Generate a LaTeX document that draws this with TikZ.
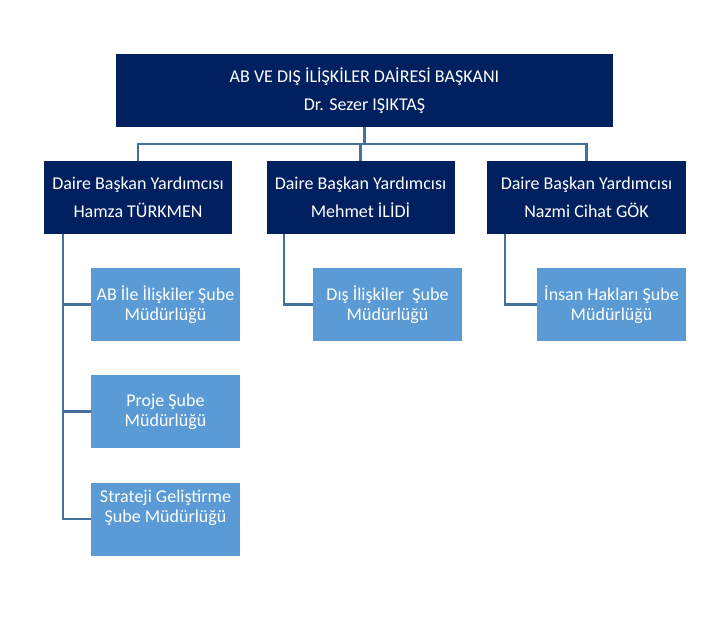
\documentclass[tikz,border=0pt]{standalone}
\usepackage{fontspec}
\setmainfont{Carlito}
\usepackage{xcolor}
\usetikzlibrary{calc,positioning}
\definecolor{koyumavi}{RGB}{0,32,96}
\definecolor{acikmavi}{RGB}{91,155,213}
\definecolor{hatmavi}{RGB}{65,113,156}
\tikzset{
  baskan/.style={rectangle, fill=koyumavi, text=white, align=center, minimum width=497pt, minimum height=73pt, inner sep=0pt, font=\fontsize{18}{20}\selectfont},
  yardimci/.style={rectangle, fill=koyumavi, text=white, align=center, minimum width=188pt, minimum height=73pt, inner sep=0pt, font=\fontsize{18}{20}\selectfont},
  sube/.style={rectangle, fill=acikmavi, text=white, align=center, minimum width=149pt, minimum height=73pt, inner sep=0pt, font=\fontsize{18}{20}\selectfont},
  hat/.style={draw=hatmavi, line width=2.2pt}
}
\begin{document}
\begin{tikzpicture}[x=1pt,y=-1pt]
\useasboundingbox (0,0) rectangle (727,642);
\node[baskan] (bsk) at (364.5,90.5) {AB VE DIŞ İLİŞKİLER DAİRESİ BAŞKANI\\[8pt]Dr. Sezer IŞIKTAŞ};
\node[yardimci] (yrd1) at (138,197.5) {Daire Başkan Yardımcısı\\[8pt]Hamza TÜRKMEN};
\node[yardimci] (yrd2) at (360.5,197.5) {Daire Başkan Yardımcısı\\[8pt]Mehmet İLİDİ};
\node[yardimci, minimum width=199pt] (yrd3) at (586.5,197.5) {Daire Başkan Yardımcısı\\[8pt]Nazmi Cihat GÖK};
\node[sube] (ab) at (165.5,304.5) {AB İle İlişkiler Şube\\Müdürlüğü};
\node[sube] (proje) at (165.5,411.5) {Proje Şube\\Müdürlüğü};
\node[sube] (strateji) at (165.5,519) {Strateji Geliştirme\\Şube Müdürlüğü\\\strut};
\node[sube] (dis) at (387.5,304.5) {Dış İlişkiler~ Şube\\Müdürlüğü};
\node[sube] (insan) at (611.5,304.5) {İnsan Hakları Şube\\Müdürlüğü};
% baglantilar
\coordinate (bara) at (0,144);
\draw[hat] (bsk.south) -- (bsk.south |- bara);
\draw[hat] (yrd1.north) -- (yrd1.north |- bara) -- (yrd3.north |- bara) -- (yrd3.north);
\draw[hat] (yrd2.north) -- (yrd2.north |- bara);
\coordinate (k1) at ($(yrd1.south west)+(19,0)$);
\coordinate (k2) at ($(yrd2.south west)+(18,0)$);
\coordinate (k3) at ($(yrd3.south west)+(18,0)$);
\draw[hat] (k1) |- (strateji.west);
\draw[hat] (k1 |- ab.west) -- (ab.west);
\draw[hat] (k1 |- proje.west) -- (proje.west);
\draw[hat] (k2) |- (dis.west);
\draw[hat] (k3) |- (insan.west);
\end{tikzpicture}
\end{document}
